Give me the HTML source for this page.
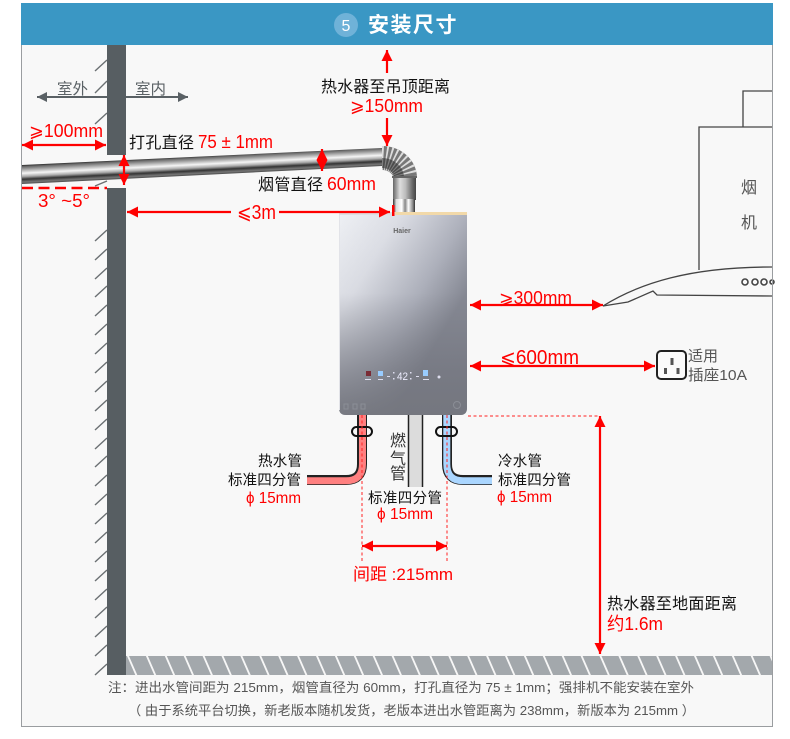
<!DOCTYPE html>
<html><head><meta charset="utf-8"><style>
html,body{margin:0;padding:0;background:#fff;width:790px;height:739px;overflow:hidden}
svg{display:block}
text{font-family:"Liberation Sans","Noto Sans CJK SC",sans-serif}
</style></head><body>
<svg width="790" height="739" viewBox="0 0 790 739" xmlns="http://www.w3.org/2000/svg">
<defs>
<linearGradient id="pipe" gradientUnits="userSpaceOnUse" x1="200" y1="156" x2="201" y2="176">
<stop offset="0" stop-color="#222"/><stop offset=".08" stop-color="#666"/><stop offset=".28" stop-color="#bbb"/><stop offset=".42" stop-color="#f5f5f5"/><stop offset=".58" stop-color="#aaa"/><stop offset=".72" stop-color="#333"/><stop offset=".86" stop-color="#777"/><stop offset="1" stop-color="#333"/>
</linearGradient>
<linearGradient id="vp" x1="0" y1="0" x2="1" y2="0">
<stop offset="0" stop-color="#666"/><stop offset=".3" stop-color="#ddd"/><stop offset=".55" stop-color="#bbb"/><stop offset=".85" stop-color="#666"/><stop offset="1" stop-color="#444"/>
</linearGradient>
<linearGradient id="vp2" x1="0" y1="0" x2="1" y2="0">
<stop offset="0" stop-color="#333"/><stop offset=".15" stop-color="#ddd"/><stop offset=".4" stop-color="#fff"/><stop offset=".55" stop-color="#888"/><stop offset=".7" stop-color="#fff"/><stop offset=".9" stop-color="#888"/><stop offset="1" stop-color="#333"/>
</linearGradient>
<linearGradient id="body" gradientUnits="userSpaceOnUse" x1="339" y1="215" x2="467" y2="292">
<stop offset="0" stop-color="#eef0f4"/><stop offset=".35" stop-color="#dcdee5"/><stop offset=".73" stop-color="#aeb1bc"/><stop offset="1" stop-color="#868994"/>
</linearGradient>
<linearGradient id="shade" x1="0" y1="0" x2="0" y2="1">
<stop offset="0" stop-color="#6f717a" stop-opacity="0"/><stop offset=".4" stop-color="#6f717a" stop-opacity=".03"/><stop offset=".78" stop-color="#6f717a" stop-opacity=".6"/><stop offset="1" stop-color="#74767e" stop-opacity=".95"/>
</linearGradient>
<pattern id="floor" patternUnits="userSpaceOnUse" width="18.9" height="19" patternTransform="translate(127 656) skewX(23.6)">
<rect width="18.9" height="19" fill="#a3a8ac"/>
<rect x="0" width="2" height="19" fill="#f7f7f7"/>
</pattern>
<marker id="a" viewBox="0 0 10 10" refX="10" refY="5" markerWidth="11" markerHeight="13" markerUnits="userSpaceOnUse" orient="auto-start-reverse"><path d="M0 0L10 5L0 10Z" fill="#f00"/></marker>
<marker id="g" viewBox="0 0 10 10" refX="10" refY="5" markerWidth="10" markerHeight="10" markerUnits="userSpaceOnUse" orient="auto-start-reverse"><path d="M0 0L10 5L0 10Z" fill="#5a6165"/></marker>
</defs>

<rect x="21.5" y="3.5" width="751" height="723" fill="#f8f8f8" stroke="#9a9da0"/>
<rect x="21" y="3" width="752" height="42" fill="#3a97c4"/>
<circle cx="346" cy="25" r="12" fill="#6fb2d8"/>
<text x="346" y="31" font-size="16" fill="#fff" text-anchor="middle">5</text>
<text x="368" y="32" font-size="21" font-weight="bold" fill="#fff" letter-spacing="1.5">安装尺寸</text>

<!-- wall hatching -->
<g stroke="#6b7073" stroke-width="1.4" fill="none">
<path d="M95 71L107 60M95 93L107 81M95 124L107 113"/>
<path d="M95 241l12-11M95 260l12-11M95 279l12-11M95 297l12-11M95 316l12-11M95 335l12-11M95 354l12-11M95 373l12-11M95 392l12-11M95 411l12-11M95 430l12-11M95 449l12-11M95 467l12-11M95 486l12-11M95 505l12-11M95 524l12-11M95 543l12-11M95 562l12-11M95 581l12-11M95 600l12-11M95 618l12-11M95 637l12-11M95 656l12-11M95 675l12-11"/>
<path d="M95 186L107 181"/>
</g>
<rect x="107" y="45" width="19" height="110" fill="#575e62"/>
<rect x="107" y="188" width="19" height="487" fill="#575e62"/>
<rect x="126" y="656" width="646" height="19" fill="url(#floor)"/>

<!-- indoor / outdoor -->
<text x="57" y="94" font-size="15.5" fill="#5a6165" textLength="31">室外</text>
<text x="135" y="94" font-size="15.5" fill="#5a6165" textLength="31">室内</text>
<path d="M107 97H37" stroke="#5a6165" stroke-width="2" marker-end="url(#g)"/>
<path d="M126 97H188" stroke="#5a6165" stroke-width="2" marker-end="url(#g)"/>

<!-- flue -->
<polygon points="22,165 382,148 382,166 22,184" fill="url(#pipe)"/>
<rect x="393" y="177" width="23" height="23" fill="url(#vp)"/>
<rect x="393" y="199" width="22" height="13" fill="url(#vp2)"/>
<path d="M382 158 A23 20 0 0 1 405 178" fill="none" stroke="#777" stroke-width="24"/>
<path d="M382 158 A23 20 0 0 1 405 178" fill="none" stroke="#ddd" stroke-width="24" stroke-dasharray="1.4 2.2"/>
<path d="M382 163 A17 15 0 0 1 399 178" fill="none" stroke="#222" stroke-width="10" stroke-opacity=".5"/>
<rect x="392" y="176" width="25" height="2" fill="#666"/>

<!-- water heater -->
<path d="M339 212H467V408Q467 415 460 415H346Q339 415 339 408Z" fill="url(#body)"/>
<path d="M339 212H467V408Q467 415 460 415H346Q339 415 339 408Z" fill="url(#shade)"/>
<rect x="339" y="212" width="56" height="3" fill="#dedfe2"/>
<rect x="395" y="212" width="72" height="3" fill="#f2d9a9"/>
<rect x="339" y="215" width="1" height="195" fill="#e2e3e8"/>
<text x="402" y="233" font-size="7" font-weight="bold" fill="#666" text-anchor="middle">Haier</text>
<text x="397" y="380" font-size="11" fill="#eef" textLength="11" lengthAdjust="spacingAndGlyphs">42</text>
<g fill="#dde">
<rect x="366" y="371" width="5" height="5" fill="#7a2b35"/><rect x="378" y="371" width="5" height="5" fill="#9cf"/>
<rect x="423" y="370" width="5" height="6" fill="#9cf"/><circle cx="439" cy="377" r="1.5"/>
<rect x="365" y="379" width="6" height="1"/><rect x="378" y="379" width="5" height="1"/><rect x="423" y="379" width="6" height="1"/>
<rect x="387" y="376" width="3" height="1"/><rect x="416" y="376" width="3" height="1"/>
<rect x="393" y="372" width="1.5" height="1.5"/><rect x="393" y="378" width="1.5" height="1.5"/><rect x="410" y="372" width="1.5" height="1.5"/><rect x="410" y="378" width="1.5" height="1.5"/>
</g>
<g fill="none" stroke="#8b8e96" stroke-width="1">
<rect x="344" y="404" width="4" height="5"/><rect x="353" y="404" width="4" height="5"/><rect x="361" y="404" width="4" height="5"/><circle cx="457" cy="405" r="3.5"/>
</g>

<!-- hot pipe -->
<path d="M362 415V464Q362 480 346 480H307" fill="none" stroke="#222" stroke-width="10"/>
<path d="M362.500 415V464Q362.500 480.700 346 480.700H307" fill="none" stroke="#ff8080" stroke-width="7"/>
<!-- cold pipe -->
<path d="M447 415V464Q447 480 463 480H492" fill="none" stroke="#222" stroke-width="10"/>
<path d="M446.800 415V464Q446.800 480.700 463 480.700H492" fill="none" stroke="#aad6ff" stroke-width="7"/>
<!-- gas pipe -->
<rect x="409" y="415" width="13" height="72" fill="#dcdcdc"/>
<path d="M408.500 415V487M422.500 415V487" stroke="#222" stroke-width="1.500"/>
<!-- clamps -->
<rect x="352" y="427" width="20" height="9" rx="4.500" fill="none" stroke="#111" stroke-width="2"/>
<rect x="436" y="427" width="21" height="9" rx="4.500" fill="none" stroke="#111" stroke-width="2"/>

<!-- dashed guides -->
<g stroke="#f22" stroke-width="1" stroke-dasharray="3 2.500" fill="none">
<path d="M362 415V563M447 415V563"/>
<path d="M468 416H600"/>
</g>
<path d="M22 188H107" stroke="#f00" stroke-width="2.500" stroke-dasharray="11 5.500" fill="none"/>

<!-- arrows -->
<g stroke="#f00" stroke-width="2.200" fill="none">
<path d="M387 73V50" marker-end="url(#a)"/>
<path d="M387 118V146" marker-end="url(#a)"/>
<path d="M33 145H22" marker-end="url(#a)"/><path d="M33 145H106" marker-end="url(#a)"/>
<path d="M124 170V155" marker-end="url(#a)"/><path d="M124 170V185" marker-end="url(#a)"/>
<path d="M322 160V149" marker-end="url(#a)"/><path d="M322 160V171" marker-end="url(#a)"/>
<path d="M231 212H127" marker-end="url(#a)"/><path d="M279 212H390" marker-end="url(#a)"/>
<path d="M480 305H470" marker-end="url(#a)"/><path d="M480 305H603" marker-end="url(#a)"/>
<path d="M480 366H470" marker-end="url(#a)"/><path d="M480 366H655" marker-end="url(#a)"/>
<path d="M375 546H362" marker-end="url(#a)"/><path d="M375 546H447" marker-end="url(#a)"/>
<path d="M600 430V416" marker-end="url(#a)"/><path d="M600 430V654" marker-end="url(#a)"/>
</g>
<rect x="392" y="205" width="2.500" height="11" fill="#f00"/>

<!-- range hood -->
<g fill="none" stroke="#444" stroke-width="1.300">
<path d="M772 91H743V127"/>
<path d="M772 127H699V270"/>
<path d="M603 306C640 283 690 267 772 267"/>
<path d="M603 306L628 302L653 291L657 295L772 296"/>
<circle cx="745" cy="282" r="3" stroke-width="1.600"/><circle cx="755" cy="282" r="3" stroke-width="1.600"/><circle cx="764" cy="282" r="3" stroke-width="1.600"/><circle cx="772" cy="282" r="2" stroke-width="1.600"/>
</g>
<rect x="772" y="45" width="1" height="682" fill="#9a9da0"/>
<text x="741" y="193" font-size="16" fill="#555">烟</text>
<text x="741" y="228" font-size="16" fill="#555">机</text>

<!-- socket -->
<rect x="657" y="351" width="29" height="28" rx="4" fill="#fbfbfb" stroke="#222" stroke-width="2"/>
<rect x="670.500" y="358" width="3" height="7" fill="#555"/>
<rect x="664" y="368" width="3" height="6" fill="#555"/>
<rect x="676.500" y="368" width="3" height="6" fill="#555"/>
<text x="688" y="361" font-size="15" fill="#555" textLength="30">适用</text>
<text x="688" y="380" font-size="15" fill="#555" textLength="59" lengthAdjust="spacingAndGlyphs">插座10A</text>

<!-- labels -->
<g font-size="16" fill="#111">
<text x="321" y="92" textLength="129">热水器至吊顶距离</text>
<text x="129" y="148" textLength="65">打孔直径</text>
<text x="258" y="190" textLength="65">烟管直径</text>
<text x="607" y="609" textLength="130">热水器至地面距离</text>
</g>
<g font-size="14.500" fill="#111">
<text x="258" y="466" textLength="44">热水管</text>
<text x="228" y="485" textLength="73">标准四分管</text>
<text x="498" y="466" textLength="44">冷水管</text>
<text x="498" y="485" textLength="73">标准四分管</text>
<text x="368" y="503" textLength="74">标准四分管</text>
</g>
<g font-size="16" fill="#333">
<text x="390" y="446">燃</text>
<text x="390" y="464">气</text>
<text x="390" y="479">管</text>
</g>
<g fill="#f00" font-size="18">
<text x="350" y="112" textLength="73" lengthAdjust="spacingAndGlyphs">⩾150mm</text>
<text x="29" y="137" textLength="74" lengthAdjust="spacingAndGlyphs">⩾100mm</text>
<text x="198" y="148" textLength="75" lengthAdjust="spacingAndGlyphs">75 ± 1mm</text>
<text x="327" y="190" textLength="49" lengthAdjust="spacingAndGlyphs">60mm</text>
<text x="38" y="207" textLength="52" lengthAdjust="spacingAndGlyphs">3°  ~5°</text>
<text x="237" y="219" font-size="20" textLength="39" lengthAdjust="spacingAndGlyphs">⩽3m</text>
<text x="499" y="304" textLength="73" lengthAdjust="spacingAndGlyphs">⩾300mm</text>
<text x="500" y="364" font-size="20" textLength="79" lengthAdjust="spacingAndGlyphs">⩽600mm</text>
<text x="353" y="580" font-size="17" textLength="100" lengthAdjust="spacingAndGlyphs">间距 :215mm</text>
<text x="607" y="630" textLength="56" lengthAdjust="spacingAndGlyphs">约1.6m</text>
</g>
<g fill="#f00" font-size="16">
<text x="246" y="503" textLength="55" lengthAdjust="spacingAndGlyphs">ϕ 15mm</text>
<text x="497" y="502" textLength="55" lengthAdjust="spacingAndGlyphs">ϕ 15mm</text>
<text x="377" y="519" textLength="56" lengthAdjust="spacingAndGlyphs">ϕ 15mm</text>
</g>
<text x="108" y="692" font-size="13" fill="#555" textLength="586" lengthAdjust="spacingAndGlyphs">注：进出水管间距为 215mm，烟管直径为 60mm，打孔直径为 75 ± 1mm；强排机不能安装在室外</text>
<text x="128" y="715" font-size="13" fill="#555" textLength="567" lengthAdjust="spacingAndGlyphs">（ 由于系统平台切换，新老版本随机发货，老版本进出水管距离为 238mm，新版本为 215mm ）</text>
</svg>
</body></html>
